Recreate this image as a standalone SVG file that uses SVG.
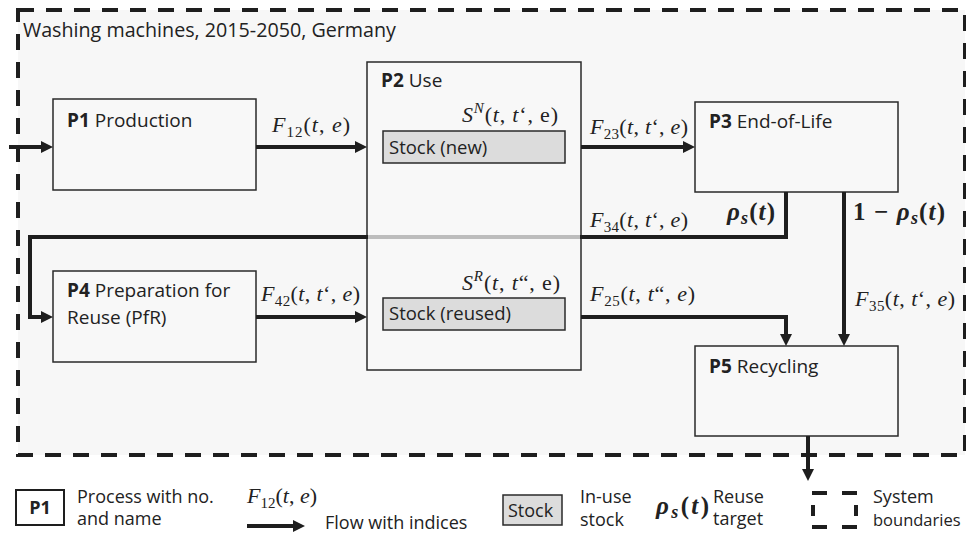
<svg xmlns="http://www.w3.org/2000/svg" width="966" height="534" viewBox="0 0 966 534">
<style>
.t{font-family:"Open Sans","Liberation Sans",sans-serif;font-size:19px;fill:#222}
.s{font-size:18.5px}
.l{font-size:18px}
.b{font-weight:bold}
.m{font-family:"Liberation Serif","DejaVu Serif",serif;font-size:22px;fill:#222}
.i{font-style:italic}
.sub{font-size:15px;font-style:normal}
.sup{font-size:15px;font-style:italic}
.rho{font-family:"Liberation Serif","DejaVu Serif",serif;font-size:25px;font-weight:bold;fill:#222}
.rs{font-size:18px;font-style:italic}
.box{fill:#f8f8f8;stroke:#2a2a2a;stroke-width:1.5}
.stock{fill:#dcdcdc;stroke:#2a2a2a;stroke-width:1.5}
.flow{fill:none;stroke:#1e1e1e;stroke-width:4;stroke-linejoin:miter}
</style>
<defs>
<marker id="ah" markerUnits="userSpaceOnUse" markerWidth="12" markerHeight="12" refX="6" refY="6" orient="auto">
<path d="M0,0 L12,6 L0,12 z" fill="#1e1e1e"/>
</marker>
</defs>
<rect x="0" y="0" width="966" height="534" fill="#ffffff"/>
<g id="boundary">
<rect x="18" y="10" width="947" height="445" fill="#f7f7f7" stroke="#1e1e1e" stroke-width="4" stroke-dasharray="16 12"/>
<text class="t" x="23" y="37" style="font-size:19.7px">Washing machines, 2015-2050, Germany</text>
</g>
<g id="P1">
<rect class="box" x="53" y="99" width="203" height="91"/>
<text class="t" x="67" y="127"><tspan class="b">P1</tspan> Production</text>
</g>
<g id="P2">
<rect class="box" x="367" y="62" width="214" height="308"/>
<text class="t" x="381" y="87"><tspan class="b">P2</tspan> Use</text>
<text class="m" x="462" y="122" textLength="96"><tspan class="i">S</tspan><tspan class="sup" dy="-9">N</tspan><tspan dy="9">(</tspan><tspan class="i">t</tspan>, <tspan class="i">t</tspan>‘, e)</text>
<rect class="stock" x="383" y="131" width="182" height="32"/>
<text class="t s" x="389" y="154">Stock (new)</text>
<text class="m" x="462" y="290" textLength="98"><tspan class="i">S</tspan><tspan class="sup" dy="-9">R</tspan><tspan dy="9">(</tspan><tspan class="i">t</tspan>, <tspan class="i">t</tspan>“, e)</text>
<rect class="stock" x="383" y="298" width="182" height="32"/>
<text class="t s" x="389" y="320">Stock (reused)</text>
</g>
<g id="P3">
<rect class="box" x="695" y="102" width="203" height="90"/>
<text class="t" x="709" y="128"><tspan class="b">P3</tspan> End-of-Life</text>
</g>
<g id="P4">
<rect class="box" x="53" y="271" width="203" height="91"/>
<text class="t" x="67" y="297"><tspan class="b">P4</tspan> Preparation for</text>
<text class="t" x="67" y="324">Reuse (PfR)</text>
</g>
<g id="P5">
<rect class="box" x="695" y="346" width="203" height="90"/>
<text class="t" x="709" y="373"><tspan class="b">P5</tspan> Recycling</text>
</g>
<g id="connectors">
<path class="flow" d="M9,147 H47" marker-end="url(#ah)"/>
<path class="flow" d="M256,147 H361" marker-end="url(#ah)"/>
<path class="flow" d="M581,147 H689" marker-end="url(#ah)"/>
<path class="flow" d="M786,192 V237 H30 V317 H47" marker-end="url(#ah)"/>
<path d="M368,237 H580" stroke="#bdbdbd" stroke-width="4"/>
<path class="flow" d="M256,317 H361" marker-end="url(#ah)"/>
<path class="flow" d="M581,317 H786 V340" marker-end="url(#ah)"/>
<path class="flow" d="M844,192 V340" marker-end="url(#ah)"/>
<path class="flow" d="M808,436 V475" marker-end="url(#ah)"/>
<text class="m" x="272" y="132" textLength="78"><tspan class="i">F</tspan><tspan class="sub" dy="5">12</tspan><tspan dy="-5">(</tspan><tspan class="i">t</tspan>, <tspan class="i">e</tspan>)</text>
<text class="m" x="590" y="134" textLength="98"><tspan class="i">F</tspan><tspan class="sub" dy="5">23</tspan><tspan dy="-5">(</tspan><tspan class="i">t</tspan>, <tspan class="i">t</tspan>‘, <tspan class="i">e</tspan>)</text>
<text class="m" x="590" y="227" textLength="98"><tspan class="i">F</tspan><tspan class="sub" dy="5">34</tspan><tspan dy="-5">(</tspan><tspan class="i">t</tspan>, <tspan class="i">t</tspan>‘, <tspan class="i">e</tspan>)</text>
<text class="m" x="261" y="301" textLength="99"><tspan class="i">F</tspan><tspan class="sub" dy="5">42</tspan><tspan dy="-5">(</tspan><tspan class="i">t</tspan>, <tspan class="i">t</tspan>‘, <tspan class="i">e</tspan>)</text>
<text class="m" x="590" y="301" textLength="105"><tspan class="i">F</tspan><tspan class="sub" dy="5">25</tspan><tspan dy="-5">(</tspan><tspan class="i">t</tspan>, <tspan class="i">t</tspan>“, <tspan class="i">e</tspan>)</text>
<text class="m" x="855" y="306" textLength="100"><tspan class="i">F</tspan><tspan class="sub" dy="5">35</tspan><tspan dy="-5">(</tspan><tspan class="i">t</tspan>, <tspan class="i">t</tspan>‘, <tspan class="i">e</tspan>)</text>
<text class="rho" x="727" y="220" textLength="48"><tspan class="i">ρ</tspan><tspan class="rs" dy="4">s</tspan><tspan dy="-4">(</tspan><tspan class="i">t</tspan>)</text>
<text class="rho" x="853" y="220" textLength="92">1 − <tspan class="i">ρ</tspan><tspan class="rs" dy="4">s</tspan><tspan dy="-4">(</tspan><tspan class="i">t</tspan>)</text>
</g>
<g id="legend">
<rect x="16" y="490" width="48" height="35" fill="#ffffff" stroke="#1e1e1e" stroke-width="2"/>
<text class="t l b" x="40" y="514" text-anchor="middle">P1</text>
<text class="t l" x="77" y="503">Process with no.</text>
<text class="t l" x="77" y="525">and name</text>
<text class="m" x="247" y="503" textLength="70"><tspan class="i">F</tspan><tspan class="sub" dy="5">12</tspan><tspan dy="-5">(</tspan><tspan class="i">t</tspan>, <tspan class="i">e</tspan>)</text>
<path class="flow" d="M247,526 H299" marker-end="url(#ah)"/>
<text class="t l" x="325" y="529">Flow with indices</text>
<rect class="stock" x="503" y="495" width="59" height="30"/>
<text class="t l" x="508" y="517">Stock</text>
<text class="t l" x="580" y="503">In-use</text>
<text class="t l" x="580" y="526">stock</text>
<text class="rho" x="656" y="514" textLength="53"><tspan class="i">ρ</tspan><tspan class="rs" dy="4">s</tspan><tspan dy="-4">(</tspan><tspan class="i">t</tspan>)</text>
<text class="t l" x="713" y="503">Reuse</text>
<text class="t l" x="713" y="525">target</text>
<path d="M812,493 H827 M842,493 H857 M812,527 H827 M842,527 H857 M813,505 V516 M856,505 V516" stroke="#1e1e1e" stroke-width="4" fill="none"/>
<text class="t l" x="873" y="503">System</text>
<text class="t" x="873" y="526" style="font-size:16.5px">boundaries</text>
</g>
</svg>
